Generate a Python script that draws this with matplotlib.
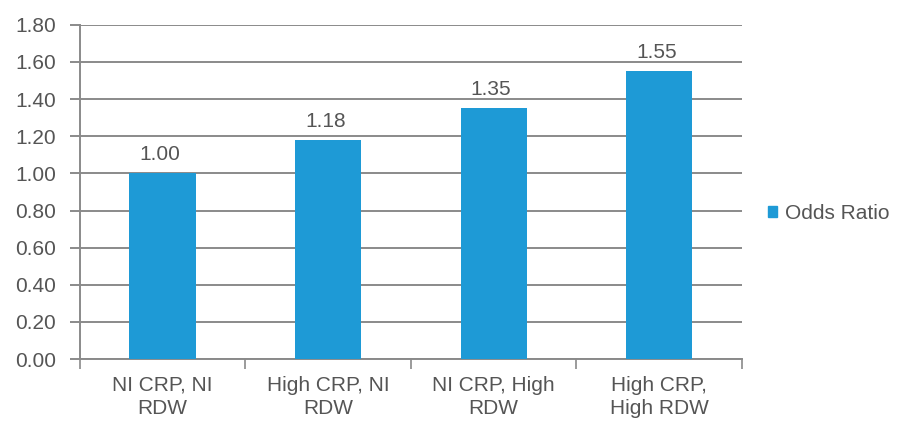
import numpy as np
from matplotlib import pyplot as plt
from matplotlib.patches import Patch

plt.rcParams["font.family"] = ["Liberation Sans", "DejaVu Sans"]

categories = ["NI CRP, NI\nRDW", "High CRP, NI\nRDW", "NI CRP, High\nRDW", "High CRP,\nHigh RDW"]
odds_ratio = [1.00, 1.18, 1.35, 1.55]
y_ticks = [0.00, 0.20, 0.40, 0.60, 0.80, 1.00, 1.20, 1.40, 1.60, 1.80]

bar_color = "#1E9AD6"
text_color = "#555555"
grid_color = "#8a8a8a"
fs = 15

fig = plt.figure(figsize=(9.07, 4.28), dpi=100)
ax = fig.add_axes([0.088, 0.161, 0.730, 0.781])

x = np.arange(len(categories))
ax.bar(x, odds_ratio, 0.4, color=bar_color, zorder=3)
for xi, v in zip(x, odds_ratio):
    ax.text(xi - 0.015, v + 0.05, f"{v:.2f}", ha="center", va="bottom", fontsize=fs, color=text_color)

ax.set_xlim(-0.5, len(categories) - 0.5)
ax.set_ylim(0, 1.8)
ax.set_yticks(y_ticks)
ax.set_yticklabels([f"{t:.2f}" for t in y_ticks])
ax.grid(axis="y", color=grid_color, linewidth=1.4, zorder=0)

# category labels sit between boundary tick marks
ax.set_xticks(x)
ax.set_xticklabels(categories, linespacing=1.3)
ax.tick_params(axis="x", length=0, pad=12, labelsize=fs, labelcolor=text_color)
ax.set_xticks(np.arange(len(categories) + 1) - 0.5, minor=True)
ax.tick_params(axis="x", which="minor", length=7, color=grid_color, width=1.2)
ax.tick_params(axis="y", length=7, color=grid_color, width=1.4, labelsize=fs,
               labelcolor=text_color, pad=10)

for side in ["top", "right"]:
    ax.spines[side].set_visible(False)
ax.spines["left"].set_color(grid_color)
ax.spines["left"].set_linewidth(1.4)
ax.spines["bottom"].set_color(grid_color)
ax.spines["bottom"].set_linewidth(1.4)

fig.legend(handles=[Patch(color=bar_color, label="Odds Ratio")], loc="center left",
           bbox_to_anchor=(0.826, 0.502), frameon=False, fontsize=fs,
           handlelength=0.45, handleheight=0.45, handletextpad=0.35, labelcolor=text_color)

plt.savefig("out.png", dpi=100)
